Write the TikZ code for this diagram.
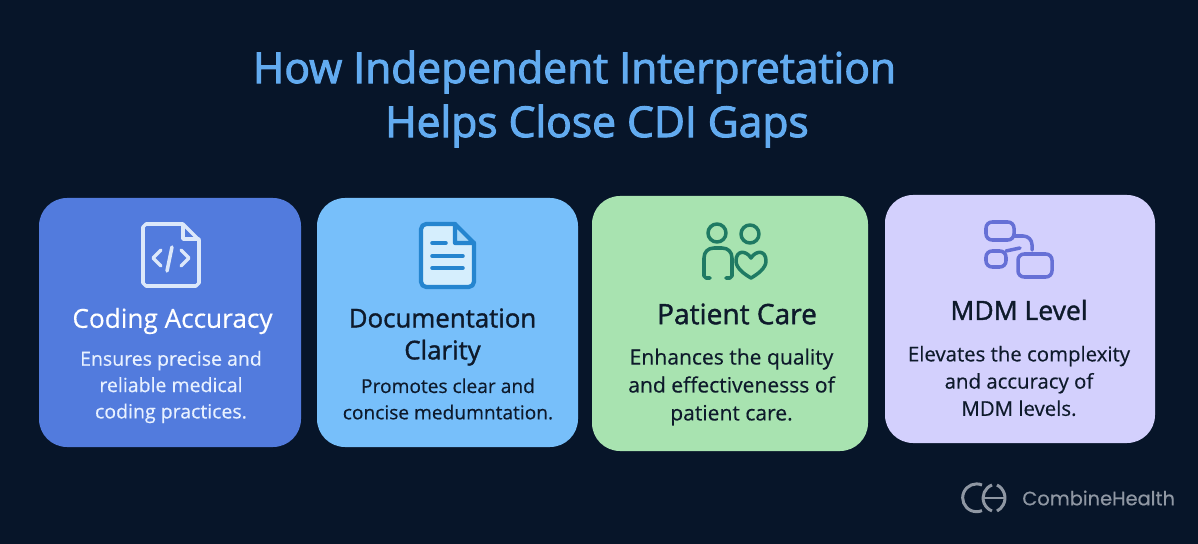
\documentclass[tikz,border=0pt]{standalone}
\usepackage{fontspec}
\setmainfont{Open Sans}
\newfontfamily\logofont[FakeBold=0.4]{Poppins}
\newfontfamily\titlefont[FakeBold=2.4]{Open Sans}
\newfontfamily\headfont[FakeBold=1.4]{Open Sans}
\newfontfamily\bodyfont[FakeBold=0.4]{Open Sans}

\definecolor{bgdark}{HTML}{071529}
\definecolor{titleblue}{HTML}{62ABF0}
\definecolor{cardblue}{HTML}{527BDD}
\definecolor{cardsky}{HTML}{77BFFA}
\definecolor{cardgreen}{HTML}{A8E3B0}
\definecolor{cardlilac}{HTML}{D3D0FD}
\definecolor{inkdark}{HTML}{0E1A2B}
\definecolor{inkpale}{HTML}{E8F1FF}
\definecolor{iconwhite}{HTML}{DCE8FA}
\definecolor{iconblue}{HTML}{2585CF}
\definecolor{iconpale}{HTML}{D5EEFD}
\definecolor{iconfold}{HTML}{A9D8F8}
\definecolor{icongreen}{HTML}{1F7A63}
\definecolor{iconviolet}{HTML}{6670D6}
\definecolor{logogrey}{HTML}{8F97A3}

\tikzset{
    card/.style={rounded corners=0.56cm},
    heading/.style={font=\headfont\fontsize{14.7}{18.2}\selectfont, align=center},
    bodytext/.style={font=\bodyfont\fontsize{11.3}{15}\selectfont, align=center},
    titletext/.style={font=\titlefont\fontsize{24.2}{30}\selectfont, text=titleblue},
    iconline/.style={line width=2pt, line cap=round, line join=round},
    logoline/.style={line width=1.7pt, logogrey}
}

\begin{document}
\begin{tikzpicture}[x=0.02cm, y=-0.02cm]

    % Background
    \fill[bgdark] (0,0) rectangle (1198,544);
    \useasboundingbox (0,0) rectangle (1198,544);

    % Title
    \node[titletext] (titleone) at (574.5,72) {How Independent Interpretation};
    \node[titletext] (titletwo) at (597,126) {Helps Close CDI Gaps};

    % Cards
    \fill[card, cardblue] (39,198) rectangle (301,447);
    \fill[card, cardsky] (317,198) rectangle (578,447);
    \fill[card, cardgreen] (592,196) rectangle (868,451);
    \fill[card, cardlilac] (885,195) rectangle (1155,443);

    % Document icon with code brackets
    \draw[iconline, iconwhite] (183,224) -- (146,224) -- (143,227) -- (143,283) -- (146,286)
        -- (196,286) -- (199,283) -- (199,240) -- (183,224) -- (183,239) -- (199,239);
    \draw[iconline, iconwhite] (161,250) -- (153,258) -- (161,266);
    \draw[iconline, iconwhite] (172,247) -- (167,271);
    \draw[iconline, iconwhite] (181,250) -- (189,258) -- (181,266);

    % Document icon with text lines
    \draw[iconline, line width=2.4pt, iconblue, fill=iconpale, rounded corners=3pt] (455,224) -- (421,224) -- (421,287) -- (474,287) -- (474,243);
    \draw[iconline, line width=2.4pt, iconblue, fill=iconfold] (455,224) -- (455,243) -- (474,243) -- cycle;
    \draw[iconline, iconblue] (432,243) -- (446,243);
    \draw[iconline, iconblue] (432,256) -- (463,256);
    \draw[iconline, iconblue] (432,268) -- (463,268);

    % Person and heart icon
    \draw[iconline, icongreen] (717,233) circle (9);
    \draw[iconline, icongreen] (750,234) circle (9);
    \draw[iconline, icongreen] (710,278) -- (706,278) -- (704,276) -- (704,258)
        .. controls (704,252) and (708,248) .. (714,248) -- (722,248)
        .. controls (728,248) and (732,252) .. (732,258) -- (732,276) -- (730,278) -- (726,278);
    \draw[iconline, icongreen] (751,258) .. controls (746,250) and (736,250) .. (736,261)
        .. controls (736,268) and (744,274) .. (751,278)
        .. controls (758,274) and (766,268) .. (766,261)
        .. controls (766,250) and (756,250) .. (751,258) -- cycle;

    % Flow chart icon
    \draw[iconline, iconviolet, rounded corners=3.5pt] (986,222) rectangle (1014,240);
    \draw[iconline, iconviolet, rounded corners=3.5pt] (1006,251) -- (986,251) -- (986,267) -- (1006,267) -- cycle;
    \draw[iconline, iconviolet, rounded corners=3.5pt] (1018,254) rectangle (1052,277);
    \draw[iconline, iconviolet, rounded corners=5pt] (1014,236) -- (1032,236) -- (1032,250);
    \draw[iconline, iconviolet] (1006,251) -- (1020,248);

    % Card texts
    \node[heading, text=white, font=\bodyfont\fontsize{14.9}{18.2}\selectfont] (codinghead) at (172.5,321) {Coding Accuracy};
    \node[bodytext, text=inkpale, font=\bodyfont\fontsize{11.1}{15}\selectfont] (codingbody) at (171,387) {Ensures precise and\\reliable medical\\coding practices.};

    \node[heading, text=inkdark] (dochead) at (442.5,337) {Documentation\\Clarity};
    \node[bodytext, text=inkdark, font=\bodyfont\fontsize{10.9}{15}\selectfont] (docbody) at (448,399) {Promotes clear and\\concise medumntation.};

    \node[heading, text=inkdark, font=\headfont\fontsize{16}{18.2}\selectfont] (carehead) at (737,314) {Patient Care};
    \node[bodytext, text=inkdark, font=\bodyfont\fontsize{12}{15.9}\selectfont] (carebody) at (731.5,387) {Enhances the quality\\and effectivenesss of\\patient care.};

    \node[heading, text=inkdark, font=\headfont\fontsize{15.1}{18.2}\selectfont] (mdmhead) at (1019,310) {MDM Level};
    \node[bodytext, text=inkdark, font=\bodyfont\fontsize{11.6}{15.5}\selectfont] (mdmbody) at (1019,381) {Elevates the complexity\\and accuracy of\\MDM levels.};

    % Logo
    \draw[logoline] (982,485) arc (-67:-293:13.9);
    \draw[logoline] (992,485) arc (-111:-249:13.9);
    \draw[logoline] (997,485) arc (-63:63:14.6);
    \draw[logoline, line width=1.2pt] (983,498) -- (1005,498);
    \node[logogrey, font=\logofont\fontsize{11.05}{14}\selectfont, anchor=west, inner sep=0pt] (logotext) at (1022,498) {CombineHealth};

\end{tikzpicture}
\end{document}
